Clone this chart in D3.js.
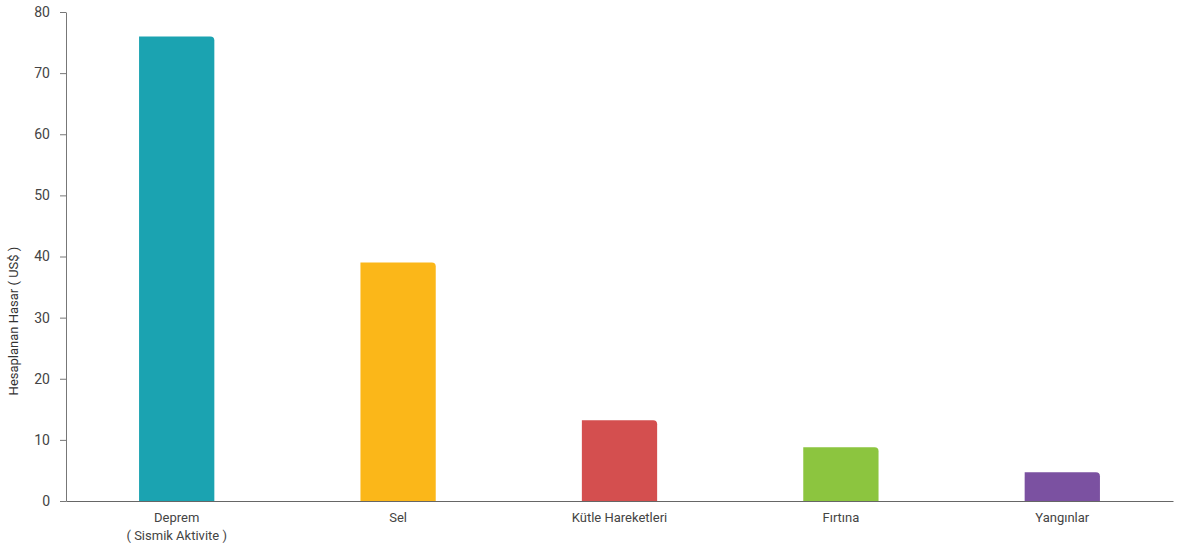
<!DOCTYPE html>
<html><head><meta charset="utf-8">
<script src="https://cdn.jsdelivr.net/npm/d3@7"></script>
<style>
body{margin:0;background:#fff;}
text{font-family:Roboto, "Open Sans", sans-serif;}
</style></head>
<body>
<svg id="c" width="1177" height="545"></svg>
<script>
const categories = ["Deprem\n( Sismik Aktivite )", "Sel", "Kütle Hareketleri", "Fırtına", "Yangınlar"];
const values = [76, 39, 13.2, 8.8, 4.7];
const colors = ["#1ba3b1", "#fbb719", "#d44f4f", "#8cc53f", "#7b51a1"];
const yTicks = [0, 10, 20, 30, 40, 50, 60, 70, 80];
const yTitle = "Hesaplanan Hasar ( US$ )";

const svg = d3.select("#c");
const m = {left: 66, right: 1173, top: 12, bottom: 501};
const x = d3.scaleBand().domain(categories).range([m.left, m.right]).paddingInner(0.66).paddingOuter(0.33);
const y = d3.scaleLinear().domain([0, 80]).range([m.bottom, m.top]);

const r = 4;
svg.append("g").selectAll("path").data(values).join("path")
  .attr("fill", (d,i) => colors[i])
  .attr("d", (d,i) => {
    const x0 = x(categories[i]), x1 = x0 + x.bandwidth();
    const y0 = y(d), yb = y(0);
    return `M${x0},${yb}V${y0}H${x1-r}Q${x1},${y0} ${x1},${y0+r}V${yb}Z`;
  });

const ya = svg.append("g").attr("transform", `translate(${m.left},0)`)
  .call(d3.axisLeft(y).tickValues(yTicks).tickSize(6).tickPadding(10).tickSizeOuter(0));
ya.select(".domain").attr("stroke", "#777");
ya.selectAll(".tick line").attr("stroke", "#777");
ya.selectAll(".tick text").attr("fill", "#444").style("font-size", "14px").style("font-family","Roboto, sans-serif");

const xa = svg.append("g").attr("transform", `translate(0,${m.bottom})`)
  .call(d3.axisBottom(x).tickSize(0).tickSizeOuter(0).tickPadding(10).tickFormat(""));
xa.select(".domain").attr("stroke", "#666");
xa.selectAll(".tick").each(function(d){
  const lines = d.split("\n");
  const t = d3.select(this).append("text").attr("fill", "#444").attr("text-anchor", "middle")
    .style("font-size", "13px");
  lines.forEach((l, k) => t.append("tspan").attr("x", 0).attr("y", 21 + k*18).text(l));
});

svg.append("text").attr("transform", "translate(18,321) rotate(-90)")
  .attr("text-anchor", "middle").attr("fill", "#333").style("font-size", "13px").text(yTitle);
</script>
</body></html>
